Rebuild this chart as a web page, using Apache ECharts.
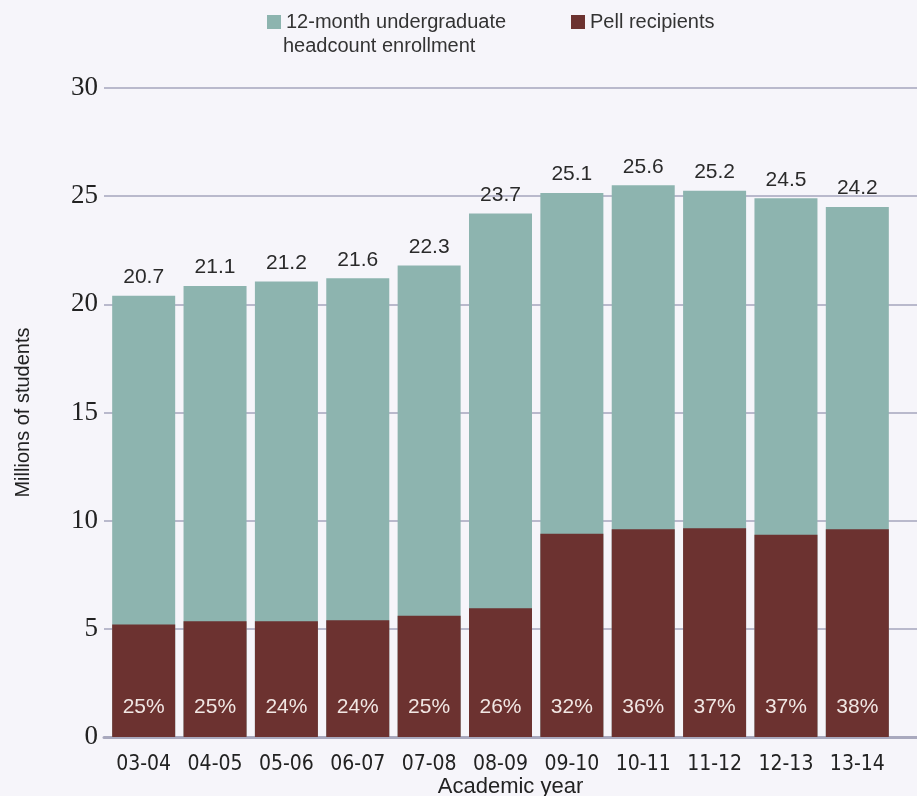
<!DOCTYPE html>
<html>
<head>
<meta charset="utf-8">
<script src="https://cdn.jsdelivr.net/npm/echarts@6/dist/echarts.min.js"></script>
<style>
html,body{margin:0;padding:0;background:#f6f5fa;}
#chart{width:917px;height:796px;}
</style>
</head>
<body>
<div id="chart"></div>
<script>
// academic years on the x axis
var years = ['03-04','04-05','05-06','06-07','07-08','08-09','09-10','10-11','11-12','12-13','13-14'];
// bar heights as drawn (millions)
var enrollment = [20.4, 20.85, 21.05, 21.2, 21.8, 24.2, 25.15, 25.5, 25.25, 24.9, 24.5];
var pell = [5.2, 5.35, 5.35, 5.4, 5.6, 5.95, 9.4, 9.6, 9.65, 9.35, 9.6];
// printed labels
var enrollmentLabels = ['20.7','21.1','21.2','21.6','22.3','23.7','25.1','25.6','25.2','24.5','24.2'];
var pellShare = ['25%','25%','24%','24%','25%','26%','32%','36%','37%','37%','38%'];

var TEAL = '#8db4af', MAROON = '#6c3230';
var sans = '"Liberation Sans", Arial, sans-serif';
var narrow = '"Liberation Sans Narrow", "DejaVu Sans Condensed", "Liberation Sans", sans-serif';

var chart = echarts.init(document.getElementById('chart'));
var option = {
    backgroundColor: '#f6f5fa',
    animation: false,
    legend: [{
        left: 262, top: 7,
        itemWidth: 14, itemHeight: 14, icon: 'rect',
        data: ['12-month undergraduate headcount enrollment'],
        formatter: function(){ return '12-month undergraduate'; },
        textStyle: {fontFamily: sans, fontSize: 20, color: '#333'},
        selectedMode: false
    },{
        left: 566, top: 7,
        itemWidth: 14, itemHeight: 14, icon: 'rect',
        data: ['Pell recipients'],
        textStyle: {fontFamily: sans, fontSize: 20, color: '#333'},
        selectedMode: false
    }],
    graphic: [{
        type: 'text', left: 283, top: 36,
        style: {text: 'headcount enrollment', font: '20px ' + sans, fill: '#333'}
    }],
    grid: [
        {left: 104, right: 0, top: 88, bottom: 59, outerBoundsMode: 'none'},
        {left: 108, right: 24, top: 88, bottom: 59, outerBoundsMode: 'none'}
    ],
    xAxis: [{
        gridIndex: 0, type: 'value', min: 0, max: 1,
        axisLine: {show: true, lineStyle: {color: '#a9a9be', width: 3}},
        axisTick: {show: false}, axisLabel: {show: false}, splitLine: {show: false},
        name: 'Academic year', nameLocation: 'middle', nameGap: 39,
        nameTextStyle: {fontFamily: sans, fontSize: 22, color: '#222'}
    },{
        gridIndex: 1, type: 'category', data: years,
        axisLine: {show: false}, axisTick: {show: false},
        axisLabel: {interval: 0, fontFamily: narrow, fontSize: 21, color: '#222', margin: 17}
    }],
    yAxis: [{
        gridIndex: 0, type: 'value', min: 0, max: 30, interval: 5,
        axisLine: {show: false}, axisTick: {show: false},
        axisLabel: {fontFamily: '"Liberation Serif", serif', fontSize: 27, color: '#222', margin: 6},
        splitLine: {show: true, lineStyle: {color: '#b9b9cc', width: 2}},
        name: 'Millions of students', nameLocation: 'middle', nameGap: 71, nameRotate: 90,
        nameTextStyle: {fontFamily: sans, fontSize: 20, color: '#222'}
    },{
        gridIndex: 1, type: 'value', min: 0, max: 30, interval: 5, show: false
    }],
    series: [{
        name: '12-month undergraduate headcount enrollment',
        type: 'bar', xAxisIndex: 1, yAxisIndex: 1,
        data: enrollment, barWidth: 63, barGap: '-100%',
        itemStyle: {color: TEAL},
        label: {
            show: true, position: 'top', distance: 8,
            fontFamily: sans, fontSize: 21, color: '#2a2a2a',
            formatter: function(p){ return enrollmentLabels[p.dataIndex]; }
        }
    },{
        name: 'Pell recipients',
        type: 'bar', xAxisIndex: 1, yAxisIndex: 1,
        data: pell, barWidth: 63, barGap: '-100%',
        itemStyle: {color: MAROON},
        label: {
            show: true, position: 'insideBottom', distance: 19,
            fontFamily: sans, fontSize: 21, color: '#f1e6e3',
            formatter: function(p){ return pellShare[p.dataIndex]; }
        }
    }]
};
chart.setOption(option);
</script>
</body>
</html>
